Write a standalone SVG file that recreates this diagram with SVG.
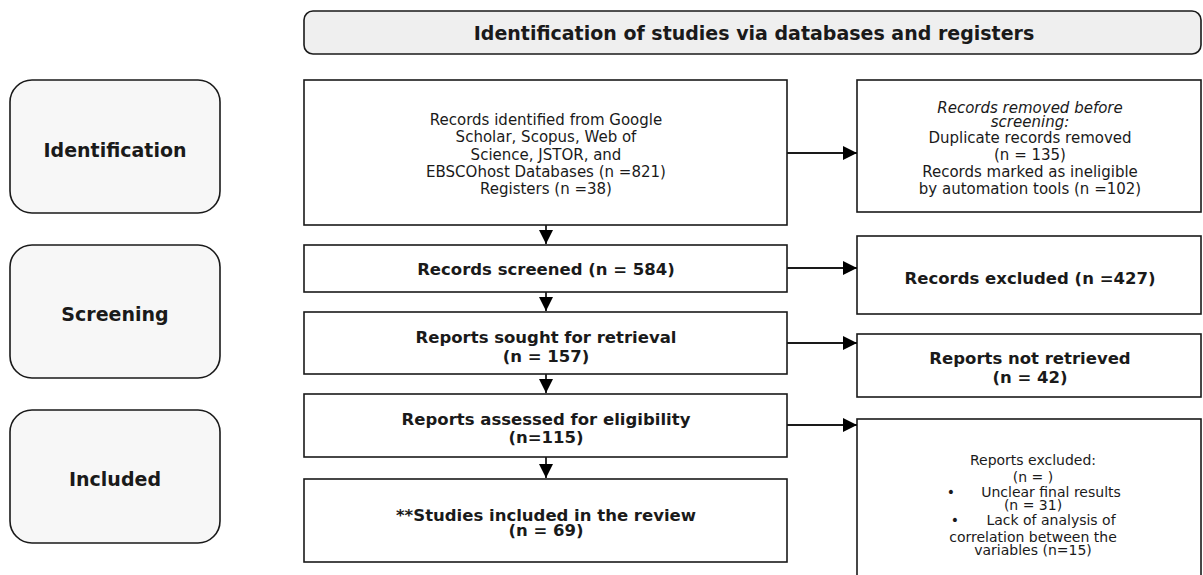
<svg xmlns="http://www.w3.org/2000/svg" width="1203" height="575" viewBox="0 0 1203 575">
<style>
.box{fill:#fff;stroke:#1a1a1a;stroke-width:1.6}
.phase{fill:#f7f7f7;stroke:#1a1a1a;stroke-width:1.6}
.hdr{fill:#efefef;stroke:#1a1a1a;stroke-width:1.6}
.t{font-family:"DejaVu Sans",sans-serif;font-size:15px;fill:#1a1a1a;text-anchor:middle}
.s{font-family:"DejaVu Sans",sans-serif;font-size:14px;fill:#1a1a1a;text-anchor:middle}
.b{font-family:"DejaVu Sans",sans-serif;font-size:16.5px;font-weight:bold;fill:#1a1a1a;text-anchor:middle}
.h{font-family:"DejaVu Sans",sans-serif;font-size:19px;font-weight:bold;fill:#1a1a1a;text-anchor:middle}
.i{font-style:italic}
.c{stroke:#1a1a1a;stroke-width:1.8;fill:none}
</style>
<defs>
<marker id="ah" viewBox="0 0 10 10" refX="10" refY="5" markerWidth="8" markerHeight="8" markerUnits="strokeWidth" orient="auto">
<path d="M0,0 L10,5 L0,10 z" fill="#000"/>
</marker>
</defs>
<g id="header">
<rect class="hdr" x="304" y="11" width="897" height="43" rx="9"/>
<text class="h" x="754" y="40">Identification of studies via databases and registers</text>
</g>
<g id="phase-identification">
<rect class="phase" x="10" y="80" width="210" height="133" rx="22"/>
<text class="h" x="115" y="157">Identification</text>
</g>
<g id="phase-screening">
<rect class="phase" x="10" y="245" width="210" height="133" rx="22"/>
<text class="h" x="115" y="321">Screening</text>
</g>
<g id="phase-included">
<rect class="phase" x="10" y="410" width="210" height="133" rx="22"/>
<text class="h" x="115" y="486">Included</text>
</g>
<g id="records-identified">
<rect class="box" x="304" y="80" width="483" height="145"/>
<text class="t" x="546" y="125">Records identified from Google</text>
<text class="t" x="546" y="142">Scholar, Scopus, Web of</text>
<text class="t" x="546" y="160">Science, JSTOR, and</text>
<text class="t" x="546" y="177">EBSCOhost Databases (n =821)</text>
<text class="t" x="546" y="194">Registers (n =38)</text>
</g>
<g id="records-removed">
<rect class="box" x="857" y="80" width="344" height="132"/>
<text class="t i" x="1030" y="113">Records removed before</text>
<text class="t i" x="1030" y="127">screening:</text>
<text class="t" x="1030" y="143">Duplicate records removed</text>
<text class="t" x="1030" y="160">(n = 135)</text>
<text class="t" x="1030" y="177">Records marked as ineligible</text>
<text class="t" x="1030" y="194">by automation tools (n =102)</text>
</g>
<g id="records-screened">
<rect class="box" x="304" y="245" width="483" height="47"/>
<text class="b" x="546" y="275">Records screened (n = 584)</text>
</g>
<g id="records-excluded">
<rect class="box" x="857" y="236" width="344" height="78"/>
<text class="b" x="1030" y="284">Records excluded (n =427)</text>
</g>
<g id="reports-sought">
<rect class="box" x="304" y="312" width="483" height="62"/>
<text class="b" x="546" y="343">Reports sought for retrieval</text>
<text class="b" x="546" y="362">(n = 157)</text>
</g>
<g id="reports-not-retrieved">
<rect class="box" x="857" y="334" width="344" height="63"/>
<text class="b" x="1030" y="364">Reports not retrieved</text>
<text class="b" x="1030" y="383">(n = 42)</text>
</g>
<g id="reports-assessed">
<rect class="box" x="304" y="394" width="483" height="63"/>
<text class="b" x="546" y="425">Reports assessed for eligibility</text>
<text class="b" x="546" y="443">(n=115)</text>
</g>
<g id="reports-excluded">
<rect class="box" x="857" y="419" width="344" height="170"/>
<text class="s" x="1033" y="465">Reports excluded:</text>
<text class="s" x="1033" y="482">(n = )</text>
<text class="s" x="951" y="497">•</text>
<text class="s" x="1051" y="497">Unclear final results</text>
<text class="s" x="1033" y="510">(n = 31)</text>
<text class="s" x="955" y="525">•</text>
<text class="s" x="1051" y="525">Lack of analysis of</text>
<text class="s" x="1033" y="542">correlation between the</text>
<text class="s" x="1033" y="555">variables (n=15)</text>
</g>
<g id="studies-included">
<rect class="box" x="304" y="479" width="483" height="83"/>
<text class="b" x="546" y="521">**Studies included in the review</text>
<text class="b" x="546" y="536">(n = 69)</text>
</g>
<g id="connectors">
<line class="c" x1="546" y1="225" x2="546" y2="244" marker-end="url(#ah)"/>
<line class="c" x1="546" y1="292" x2="546" y2="311" marker-end="url(#ah)"/>
<line class="c" x1="546" y1="374" x2="546" y2="393" marker-end="url(#ah)"/>
<line class="c" x1="546" y1="457" x2="546" y2="478" marker-end="url(#ah)"/>
<line class="c" x1="787" y1="153" x2="857" y2="153" marker-end="url(#ah)"/>
<line class="c" x1="787" y1="268" x2="857" y2="268" marker-end="url(#ah)"/>
<line class="c" x1="787" y1="343" x2="857" y2="343" marker-end="url(#ah)"/>
<line class="c" x1="787" y1="425" x2="857" y2="425" marker-end="url(#ah)"/>
</g>
</svg>
